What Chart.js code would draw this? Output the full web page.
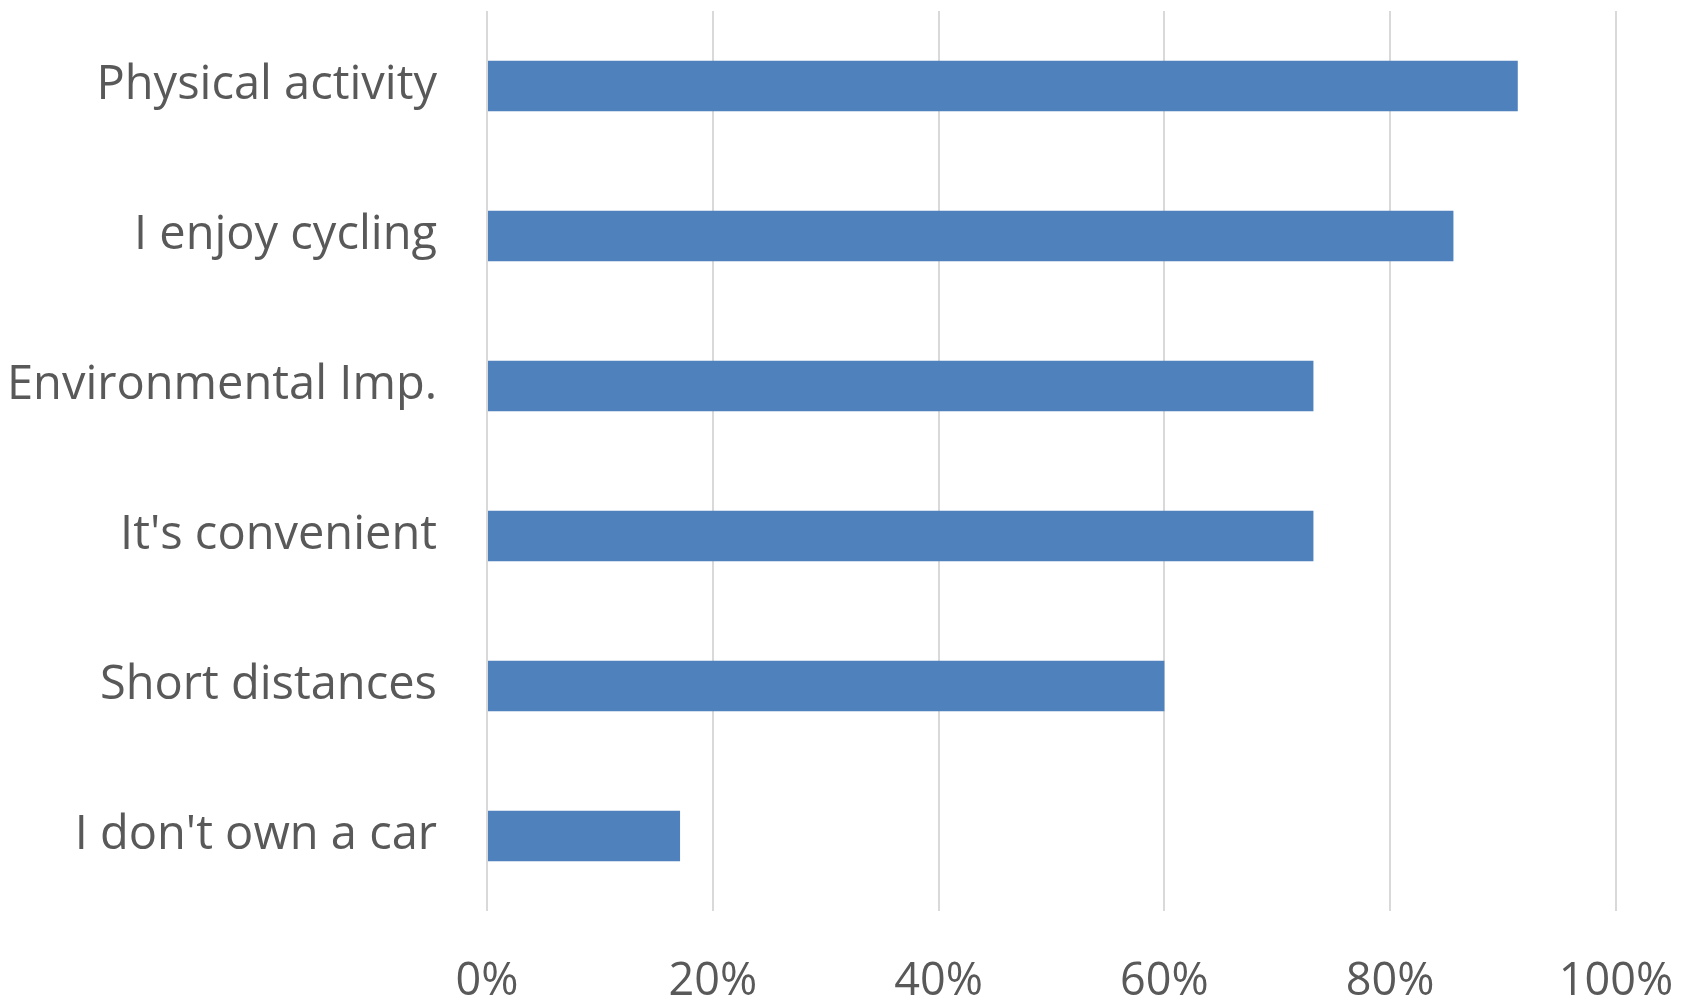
<!DOCTYPE html>
<html>
<head>
<meta charset="utf-8">
<script src="https://cdn.jsdelivr.net/npm/chart.js@4/dist/chart.umd.min.js"></script>
<style>
  html, body { margin: 0; padding: 0; background: #ffffff; }
  #wrap { width: 1688px; height: 1002px; position: relative; }
</style>
</head>
<body>
<div id="wrap"><canvas id="c" width="1688" height="1002"></canvas></div>
<script>
const categories = ["Physical activity", "I enjoy cycling", "Environmental Imp.", "It's convenient", "Short distances", "I don't own a car"];
const shareValues = [91.3, 85.6, 73.2, 73.2, 60.0, 17.1];
const tickLabels = ["0%", "20%", "40%", "60%", "80%", "100%"];

const FONT = "'Open Sans', Lato, sans-serif";
const TEXT = "#595959";

new Chart(document.getElementById("c"), {
  type: "bar",
  data: {
    labels: categories,
    datasets: [{
      data: shareValues,
      backgroundColor: "#4F81BD",
      borderWidth: 0,
      categoryPercentage: 1,
      barPercentage: 0.337
    }]
  },
  options: {
    indexAxis: "y",
    responsive: false,
    animation: false,
    layout: { padding: { top: 11, right: 72, left: 0, bottom: 0 } },
    plugins: { legend: { display: false }, tooltip: { enabled: false } },
    scales: {
      x: {
        min: 0, max: 100,
        ticks: {
          stepSize: 20,
          padding: 44,
          color: TEXT,
          font: { family: FONT, size: 45 },
          callback: (v, i) => tickLabels[i]
        },
        grid: { color: "#D9D9D9", lineWidth: 2, drawTicks: false },
        border: { display: false },
        afterFit: (s) => { s.height = 91; s.paddingLeft = 0; s.paddingRight = 0; }
      },
      y: {
        ticks: {
          padding: 50,
          color: TEXT,
          font: { family: FONT, size: 47 }
        },
        grid: { display: false, drawTicks: false },
        border: { display: false },
        afterFit: (s) => { s.width = 487; s.paddingTop = 0; s.paddingBottom = 0; }
      }
    }
  }
});
</script>
</body>
</html>
